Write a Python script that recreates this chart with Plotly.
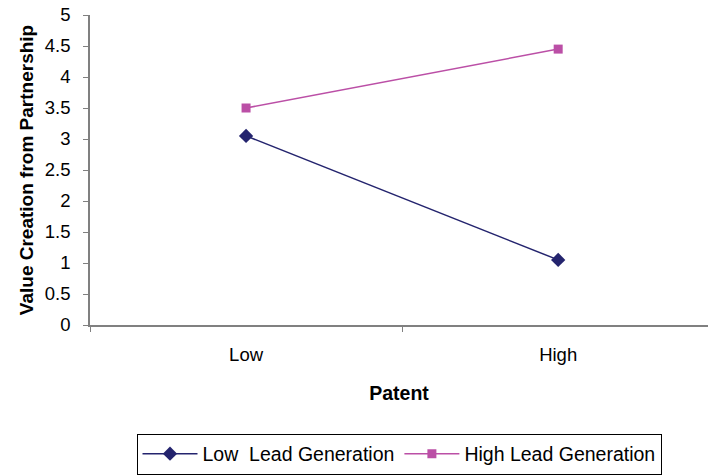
import plotly.graph_objects as go

categories = ["Low", "High"]
low_lead = [3.05, 1.05]
high_lead = [3.5, 4.45]
y_ticks = [0, 0.5, 1, 1.5, 2, 2.5, 3, 3.5, 4, 4.5, 5]

navy = "#24246E"
pink = "#BB4FA6"

fig = go.Figure()
fig.add_trace(go.Scatter(x=categories, y=low_lead, mode="lines+markers",
                         name="Low  Lead Generation",
                         line=dict(color=navy, width=1.5),
                         marker=dict(symbol="diamond", size=11, color=navy)))
fig.add_trace(go.Scatter(x=categories, y=high_lead, mode="lines+markers",
                         name="High Lead Generation",
                         line=dict(color=pink, width=1.5),
                         marker=dict(symbol="square", size=9, color=pink)))

fig.update_layout(
    width=708, height=476,
    margin=dict(l=90, r=0, t=15, b=151, autoexpand=False),
    paper_bgcolor="white", plot_bgcolor="white",
    font=dict(family="Liberation Sans, Arial", size=18.5, color="black"),
    showlegend=True,
    legend=dict(orientation="h", x=0.5, xanchor="center", y=-0.35, yanchor="top",
                bordercolor="black", borderwidth=1, font=dict(size=19.5),
                itemwidth=55, tracegroupgap=0),
)
fig.update_xaxes(type="category", range=[-0.5, 1.48], tickson="boundaries",
                 ticks="outside", ticklen=5, tickcolor="#808080",
                 showline=True, linecolor="#808080", linewidth=1.5,
                 showgrid=False, zeroline=False, ticklabelstandoff=12,
                 title=dict(text="<b>Patent</b>", font=dict(size=19.5), standoff=22))
fig.update_yaxes(range=[0, 5], tickvals=y_ticks, ticktext=[f"{v:g}" for v in y_ticks],
                 ticks="outside", ticklen=5, tickcolor="#808080",
                 showline=True, linecolor="#808080", linewidth=1.5,
                 showgrid=False, zeroline=False, ticklabelstandoff=9,
                 title=dict(text="<b>Value Creation from Partnership</b>", font=dict(size=19), standoff=6))

fig.write_html("out.html")
